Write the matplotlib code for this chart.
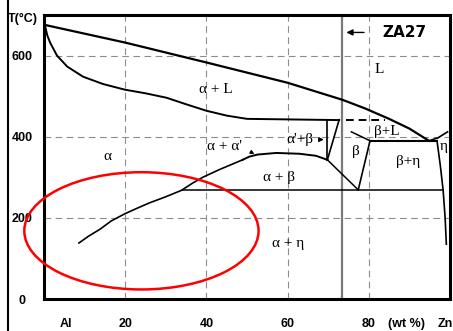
import matplotlib
matplotlib.use("Agg")
import matplotlib.pyplot as plt
from matplotlib.patches import Ellipse
from matplotlib.lines import Line2D

# --- data (wt % Zn, temperature in C) ---
liq_x = [0, 20, 40, 60, 73.5, 79, 85, 90, 94.8]
liq_T = [676, 632, 583, 533, 491, 470, 444, 420, 390]
liq_zn_x = [94.8, 97, 99.4]
liq_zn_T = [390, 397, 412]

sol_x = [0.2, 0.8, 1.5, 3.2, 5.7, 9.6, 14.5, 19.9, 25, 30.2, 35, 40, 45, 50, 72.7]
sol_T = [676, 650, 632, 600, 573, 548, 530, 516, 507, 496, 480, 464, 452, 444, 441]

mono_x = [74.5, 84]
mono_T = [440, 440]

box_x = [69.8, 69.8]
box_T = [343, 442]
slant_x = [72.7, 69.8]
slant_T = [442, 343]

dome_x = [48.9, 50.6, 52.6, 57.2, 62.9, 67, 69.8]
dome_T = [343, 351, 356, 360, 358, 353, 343]

solv_x = [8.6, 11, 13.8, 16.5, 19.9, 23, 26, 30, 33.9, 36.5, 39.1, 43.2, 48.9]
solv_T = [138, 155, 172, 192, 210, 224, 237, 252, 268, 285, 300, 319, 343]

ab_x = [69.8, 77.4]
ab_T = [343, 269]
eutectoid_x = [33.9, 98.3]
eutectoid_T = [269, 269]

beta_r_x = [77.4, 80.3]
beta_r_T = [269, 390]
beta_l_x = [75.7, 80.3]
beta_l_T = [412, 390]
eutectic_x = [80.3, 96.8]
eutectic_T = [390, 390]

eta_x = [96.8, 97.6, 98.3, 98.8, 99.1]
eta_T = [390, 330, 269, 200, 135]

za27 = 73.5

grid_x = [20, 40, 60, 80]
grid_T = [200, 400, 600]

xtick_pos = [5.4, 20, 40, 60, 80, 89.4, 98.8]
xtick_lab = ['Al', '20', '40', '60', '80', '(wt %)', 'Zn']
ytick_pos = [0, 200, 400, 600]
ytick_lab = ['0', '200', '400', '600']

labels = [
    ('α + L', 42.3, 516),
    ('L', 82.6, 565),
    ('α', 15.5, 351),
    ('α + α\'', 44.5, 375),
    ('α\'+β', 63.0, 393),
    ('β+L', 84.5, 412),
    ('β', 76.9, 363),
    ('β+η', 89.7, 338),
    ('η', 98.4, 375),
    ('α + β', 58.0, 300),
    ('α + η', 60.2, 138),
]

fig = plt.figure(figsize=(4.53, 3.31), dpi=100)
ax = fig.add_axes([44/453, 1-299/331, 406/453, 284/331])
ax.set_xlim(0, 100)
ax.set_ylim(0, 700)

for g in grid_x:
    ax.axvline(g, color='#8c8c8c', lw=0.8, ls=(0, (6, 4)), zorder=1)
for g in grid_T:
    ax.axhline(g, color='#8c8c8c', lw=0.8, ls=(0, (6, 4)), zorder=1)

k = dict(color='black', zorder=3)
ax.plot(liq_x, liq_T, lw=1.6, **k)
ax.plot(liq_zn_x, liq_zn_T, lw=1.2, **k)
ax.plot(sol_x, sol_T, lw=1.4, **k)
ax.plot(mono_x, mono_T, lw=1.4, ls=(0, (4, 2.5)), **k)
ax.plot(box_x, box_T, lw=1.2, **k)
ax.plot(slant_x, slant_T, lw=1.2, **k)
ax.plot(dome_x, dome_T, lw=1.4, **k)
ax.plot(solv_x, solv_T, lw=1.2, **k)
ax.plot(ab_x, ab_T, lw=1.1, **k)
ax.plot(eutectoid_x, eutectoid_T, lw=1.1, **k)
ax.plot(beta_r_x, beta_r_T, lw=1.2, **k)
ax.plot(beta_l_x, beta_l_T, lw=1.1, **k)
ax.plot(eutectic_x, eutectic_T, lw=1.5, **k)
ax.plot(eta_x, eta_T, lw=1.2, **k)

ax.axvline(za27, color='#7a7a7a', lw=1.6, zorder=2)
ax.annotate('', xy=(za27 + 0.3, 657), xytext=(79.5, 657),
            arrowprops=dict(arrowstyle='-|>', color='black', lw=1.0,
                            mutation_scale=9))
ax.text(88.7, 657, 'ZA27', ha='center', va='center', fontsize=11,
        fontweight='heavy', family='DejaVu Sans')

for txt, x, y in labels:
    ax.text(x, y, txt, ha='center', va='center', fontsize=11,
            family='Liberation Serif', zorder=4)

# small arrows pointing at the phase fields
ax.annotate('', xy=(52.4, 354), xytext=(50.3, 366),
            arrowprops=dict(arrowstyle='-|>', color='black', lw=0.7,
                            mutation_scale=6))
ax.annotate('', xy=(69.6, 393), xytext=(67.6, 393),
            arrowprops=dict(arrowstyle='-|>', color='black', lw=0.8,
                            mutation_scale=7))

ell = Ellipse((24, 168), 57.7, 289, fill=False, edgecolor='red', lw=1.8,
              clip_on=False, zorder=5)
ax.add_patch(ell)

ax.set_xticks(xtick_pos)
ax.set_xticklabels(xtick_lab, fontsize=9, fontweight='bold',
                   family='Liberation Sans')
ax.set_yticks(ytick_pos)
ax.set_yticklabels(ytick_lab, fontsize=9, fontweight='bold',
                   family='Liberation Sans', ha='center')
ax.tick_params(axis='x', length=0, pad=14)
ax.tick_params(axis='y', length=0, pad=15.5)
for s in ax.spines.values():
    s.set_linewidth(2.2)

ax.text(-0.09, 0.985, 'T(°C)', transform=ax.transAxes, ha='left',
        va='center', fontsize=9, fontweight='bold', family='Liberation Sans')

fig.add_artist(Line2D([8/453, 8/453], [0, 1], color='black', lw=1.5,
                      transform=fig.transFigure))

fig.savefig('out.png', dpi=100)
